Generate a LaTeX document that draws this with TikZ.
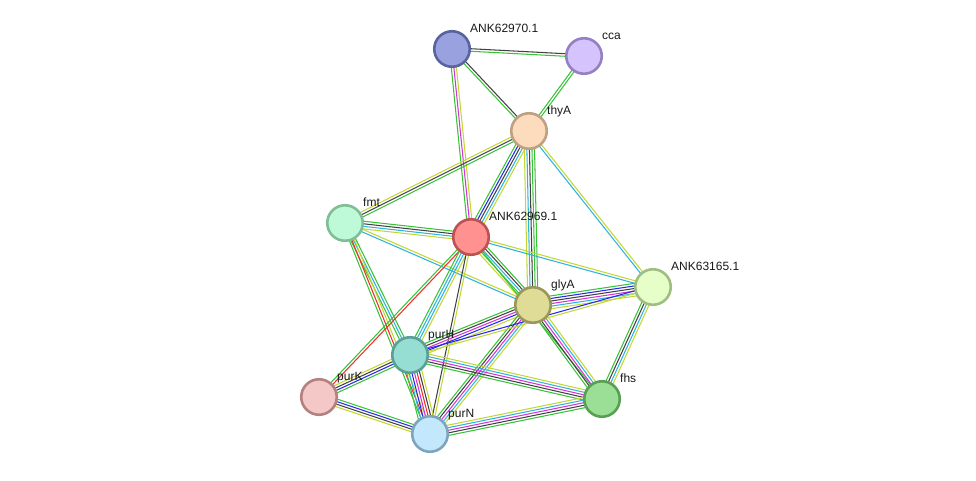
\documentclass[tikz,border=0pt]{standalone}
\usepackage{fontspec}
\setmainfont{Liberation Sans}
\usetikzlibrary{calc,backgrounds}
\definecolor{cG}{RGB}{55,195,55}
\definecolor{cK}{RGB}{65,65,65}
\definecolor{cM}{RGB}{215,50,215}
\definecolor{cC}{RGB}{45,180,220}
\definecolor{cB}{RGB}{40,40,230}
\definecolor{cR}{RGB}{240,45,45}
\definecolor{cY}{RGB}{195,215,50}
\tikzset{
  nd/.style={circle, minimum size=35.5pt, inner sep=0pt, line width=2.6pt},
  lbl/.style={anchor=base west, inner sep=0pt, font=\fontsize{12}{14}\selectfont, text=black!90},
}
\newcommand\strEdge[3]{%
  \foreach \c [count=\n] in {#3} {\xdef\ncount{\n}}%
  \foreach \c [count=\i] in {#3} {%
    \pgfmathsetmacro\off{(\i-(\ncount+1)/2)*2.55}%
    \draw[\c, line width=1.05pt] ($(#1)!\off pt!90:(#2)$) -- ($(#2)!\off pt!-90:(#1)$);
  }%
}
\begin{document}
\begin{tikzpicture}[x=1pt,y=-1pt]
\useasboundingbox (0,0) rectangle (976,480);
% nodes
\node[nd, fill={rgb,255:red,153;green,162;blue,222}, draw={rgb,255:red,88;green,100;blue,160}] (n70) at (452,49) {};
\node[nd, fill={rgb,255:red,212;green,195;blue,252}, draw={rgb,255:red,148;green,128;blue,196}] (cca) at (584,56) {};
\node[nd, fill={rgb,255:red,253;green,220;blue,190}, draw={rgb,255:red,190;green,160;blue,130}] (thyA) at (529,131) {};
\node[nd, fill={rgb,255:red,190;green,250;blue,215}, draw={rgb,255:red,128;green,190;blue,150}] (fmt) at (345,223) {};
\node[nd, fill={rgb,255:red,255;green,145;blue,145}, draw={rgb,255:red,190;green,82;blue,82}] (n69) at (471,237) {};
\node[nd, fill={rgb,255:red,230;green,255;blue,200}, draw={rgb,255:red,160;green,190;blue,130}] (n65) at (653,287) {};
\node[nd, fill={rgb,255:red,222;green,220;blue,150}, draw={rgb,255:red,155;green,150;blue,90}] (glyA) at (533,305) {};
\node[nd, fill={rgb,255:red,150;green,222;blue,212}, draw={rgb,255:red,90;green,160;blue,150}] (purH) at (410,355) {};
\node[nd, fill={rgb,255:red,245;green,200;blue,200}, draw={rgb,255:red,180;green,128;blue,128}] (purK) at (319,397) {};
\node[nd, fill={rgb,255:red,195;green,232;blue,252}, draw={rgb,255:red,125;green,165;blue,190}] (purN) at (430,434) {};
\node[nd, fill={rgb,255:red,155;green,222;blue,150}, draw={rgb,255:red,88;green,158;blue,85}] (fhs) at (602,399) {};
% labels
\node[lbl] (l70) at (470,32) {ANK62970.1};
\node[lbl] (lcca) at (602,39) {cca};
\node[lbl] (lthyA) at (547,114) {thyA};
\node[lbl] (lfmt) at (363,206) {fmt};
\node[lbl] (l69) at (489,220) {ANK62969.1};
\node[lbl] (l65) at (671,270) {ANK63165.1};
\node[lbl] (lglyA) at (551,288) {glyA};
\node[lbl] (lpurH) at (428,338) {purH};
\node[lbl] (lpurK) at (337,380) {purK};
\node[lbl] (lpurN) at (448,417) {purN};
\node[lbl] (lfhs) at (620,382) {fhs};
% edges
\begin{scope}[on background layer]
\strEdge{n70}{cca}{cG,cK}
\strEdge{n70}{thyA}{cG,cK}
\strEdge{cca}{thyA}{cG,cG}
\strEdge{n70}{n69}{cG,cM,cY}
\strEdge{thyA}{fmt}{cY,cK,cG}
\strEdge{thyA}{n69}{cG,cB,cK,cC,cY}
\strEdge{thyA}{glyA}{cY,cC,cK,cG,cG}
\strEdge{thyA}{n65}{cC,cY}
\strEdge{fmt}{n69}{cY,cC,cK,cG}
\strEdge{fmt}{glyA}{cC,cY}
\strEdge{fmt}{purH}{cG,cC,cG}
\strEdge{fmt}{purN}{cG,cR,cY}
\strEdge{n69}{n65}{cC,cY}
\strEdge{n69}{glyA}{cY,cG,cC,cK,cG}
\strEdge{n69}{purK}{cG,cR}
\strEdge{n69}{purH}{cG,cC,cC,cY}
\strEdge{n69}{purN}{cK,cY}
\strEdge{n69}{fhs}{cG}
\strEdge{glyA}{n65}{cY,cC,cM,cK,cB,cG}
\strEdge{glyA}{fhs}{cG,cK,cM,cC,cY}
\strEdge{glyA}{purH}{cG,cK,cM,cB,cY}
\strEdge{glyA}{purN}{cG,cK,cM,cC,cY}
\strEdge{n65}{fhs}{cG,cK,cC,cY}
\strEdge{n65}{purH}{cB,cY}
\strEdge{purH}{purK}{cY,cK,cB,cG}
\strEdge{purK}{purN}{cY,cK,cB,cG}
\strEdge{purH}{purN}{cG,cC,cB,cM,cR,cK,cY}
\strEdge{purH}{fhs}{cG,cK,cM,cC,cY}
\strEdge{purN}{fhs}{cG,cK,cM,cC,cY}
\end{scope}
\end{tikzpicture}
\end{document}
